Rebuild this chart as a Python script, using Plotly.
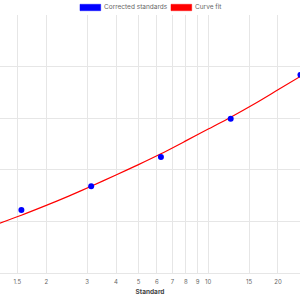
import plotly.graph_objects as go

# Data
standards_x = [1.5625, 3.125, 6.25, 12.5, 25]
standards_y = [1.22, 1.68, 2.25, 2.99, 3.84]

fit_x = [1.25, 1.5625, 2, 2.5, 3.125, 4, 5, 6.25, 8, 10, 12.5, 16, 20, 25]
fit_y = [0.96, 1.12, 1.31, 1.49, 1.68, 1.90, 2.10, 2.31, 2.56, 2.79, 3.02, 3.29, 3.55, 3.81]

tick_vals = [1.5, 2, 3, 4, 5, 6, 7, 8, 9, 10, 15, 20]
tick_text = ["1.5", "2", "3", "4", "5", "6", "7", "8", "9", "10", "15", "20"]

legend_labels = ["Corrected standards", "Curve fit"]
legend_colors = ["blue", "red"]

FONT = "Inter"
GRID = "#e6e6e6"
TXT = "#666666"

fig = go.Figure()
fig.add_trace(go.Scatter(
    x=fit_x, y=fit_y, mode="lines", name=legend_labels[1],
    line=dict(color="red", width=1.2, shape="spline", smoothing=0.8), showlegend=False,
))
fig.add_trace(go.Scatter(
    x=standards_x, y=standards_y, mode="markers", name=legend_labels[0],
    marker=dict(color="blue", size=6), showlegend=False, cliponaxis=True,
))

# manual legend (rectangular swatches)
H = 258.0
def py(p):
    return (273 - p) / H

swatch_x = [(80, 100.7), (171, 191.7)]
text_x = [103, 194]
for (x0, x1), tx, lab, col in zip(swatch_x, text_x, legend_labels, legend_colors):
    fig.add_shape(type="rect", xref="paper", yref="paper",
                  x0=x0 / 300, x1=x1 / 300, y0=py(10.7), y1=py(4.3),
                  fillcolor=col, line=dict(color=col, width=0.5))
    fig.add_annotation(xref="paper", yref="paper", x=tx / 300, y=py(7.5),
                       xanchor="left", yanchor="middle", text=lab, showarrow=False,
                       font=dict(family=FONT, size=6.5, color=TXT), borderpad=0)

fig.update_xaxes(
    type="log", range=[0.1015, 1.396],
    tickvals=tick_vals, ticktext=tick_text,
    showgrid=True, gridcolor=GRID, gridwidth=1,
    showline=False, ticks="", zeroline=False,
    ticklabelstandoff=4,
    tickfont=dict(family=FONT, size=6, color=TXT),
    title=dict(text="<b>Standard</b>", font=dict(family=FONT, size=6.5, color="#444444"), standoff=5),
)
fig.update_yaxes(
    range=[0, 5], dtick=1, showticklabels=False,
    showgrid=True, gridcolor=GRID, gridwidth=1,
    zeroline=True, zerolinecolor=GRID, zerolinewidth=1, ticks="",
)
fig.update_layout(
    width=300, height=300,
    margin=dict(l=0, r=0, t=15, b=27, pad=0),
    plot_bgcolor="white", paper_bgcolor="white",
    showlegend=False,
    font=dict(family=FONT),
)
fig.write_html("out.html")
